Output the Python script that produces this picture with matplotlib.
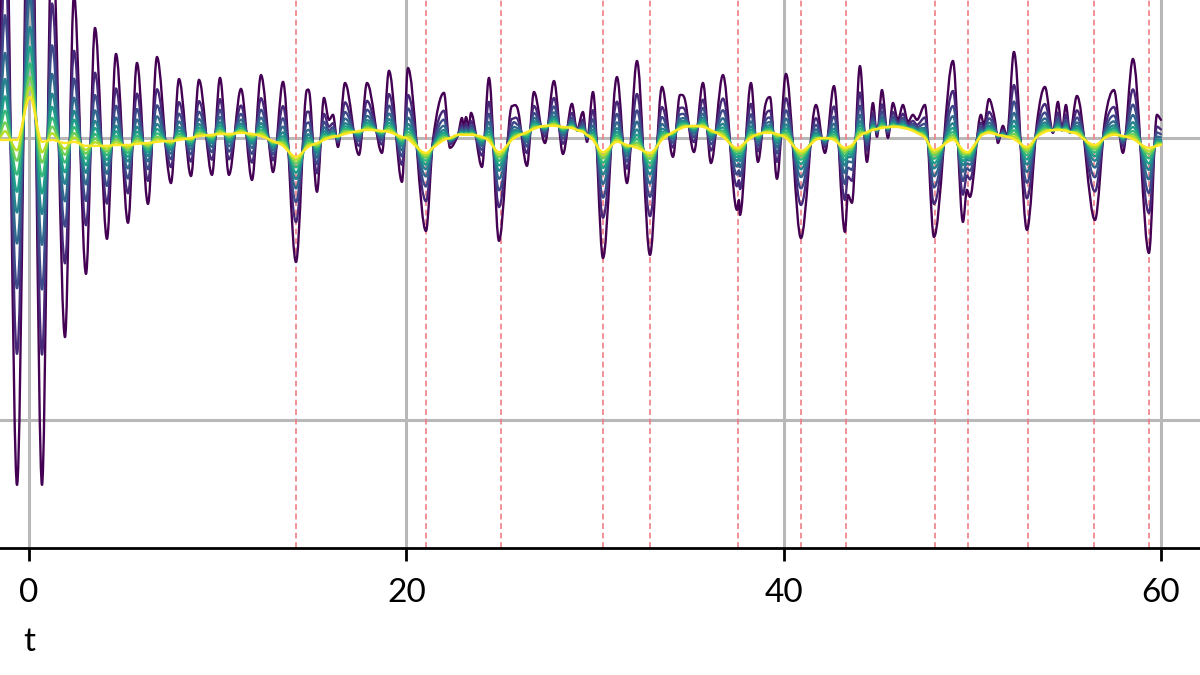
import matplotlib
matplotlib.use("Agg")
import matplotlib.pyplot as plt
from matplotlib.path import Path
from matplotlib.patches import PathPatch
import numpy as np

# sample positions along t (shared by the traced curves)
t = [-1.537, -1.272, -0.636, 0.053, 0.689, 1.219, 1.908, 2.385, 3.021, 3.498,
     4.134, 4.611, 5.247, 5.724, 6.307, 6.784, 7.314, 7.526, 7.950, 8.587,
     9.011, 9.700, 10.124, 10.600, 11.237, 11.820, 12.297, 12.774, 12.933, 13.463,
     14.152, 14.735, 14.894, 15.265, 15.636, 15.901, 16.113, 16.378, 16.749, 17.491,
     17.915, 18.710, 19.081, 19.770, 20.088, 21.042, 21.413, 21.996, 22.314, 22.738,
     22.950, 23.056, 23.162, 23.321, 23.427, 24.010, 24.381, 24.911, 25.600, 25.918,
     26.395, 26.766, 27.349, 27.826, 28.303, 28.780, 29.045, 29.364, 29.576, 29.894,
     30.424, 31.166, 31.696, 32.226, 32.915, 33.551, 34.134, 34.505, 34.770, 35.247,
     35.724, 36.148, 36.784, 37.526, 37.632, 37.685, 38.268, 38.639, 39.010, 39.275,
     39.646, 40.123, 40.918, 41.713, 42.190, 42.667, 43.250, 43.409, 43.621, 44.045,
     44.416, 44.734, 44.946, 45.211, 45.529, 45.794, 46.059, 46.324, 46.589, 46.854,
     47.066, 47.490, 47.967, 48.975, 49.505, 49.717, 49.875, 50.458, 50.617, 50.882,
     51.200, 51.359, 51.624, 51.836, 52.207, 52.896, 53.426, 53.850, 54.275, 54.540,
     54.752, 54.964, 55.176, 55.547, 56.501, 57.031, 57.508, 57.985, 58.515, 59.363,
     59.787, 60.000]

# most oscillating curve (dark purple)
rough = [2.77, 10.21, -12.30, 13.26, -12.30, 7.73, -7.06, 5.07, -4.82, 3.90,
         -3.58, 2.98, -3.01, 2.66, -2.34, 2.87, -0.78, -1.60, 2.09, -1.35,
         2.06, -1.31, 2.13, -1.31, 1.74, -1.49, 2.23, -0.53, -1.21, 1.99,
         -4.40, 1.70, 1.45, -1.91, 1.42, 0.64, 0.82, -0.32, 1.95, -0.60,
         1.95, -0.53, 2.38, -1.56, 2.48, -3.30, -0.07, 1.60, -0.35, 0.11,
         0.71, 0.35, 0.74, 0.39, 0.89, -1.03, 2.13, -3.65, 1.13, 0.99,
         -0.99, 1.63, -0.18, 2.02, -0.57, 1.21, 0.28, 0.92, -0.14, 1.63,
         -4.26, 2.16, -1.60, 2.73, -4.15, 1.81, -0.67, 1.52, 1.35, -0.50,
         1.95, -0.89, 2.23, -2.55, -2.20, -2.73, 1.95, -0.85, 1.10, 1.45,
         -1.45, 2.27, -3.55, 1.17, -0.53, 1.84, -3.33, -2.02, -2.30, 2.55,
         -0.85, 1.24, 0.04, 1.70, 0.00, 1.24, 0.64, 1.17, 0.57, 0.82,
         0.64, 1.17, -3.51, 2.73, -2.98, -1.84, -2.09, 0.82, 0.46, 1.38,
         0.64, -0.18, 0.43, 0.04, 3.05, -3.26, 0.53, 1.81, 0.18, 1.28,
         0.28, 1.17, 0.18, 1.49, -2.91, 0.64, 1.70, -0.53, 2.80, -4.08,
         0.82, 0.64]

# smoothest curve (yellow)
smooth = [-0.07, -0.07, -0.07, 1.45, -0.14, -0.07, -0.18, -0.14, -0.28, -0.28,
          -0.28, -0.25, -0.25, -0.21, -0.18, -0.14, -0.11, -0.11, -0.07, 0.00,
          0.07, 0.11, 0.14, 0.14, 0.18, 0.14, 0.07, -0.07, -0.11, -0.28,
          -0.67, -0.35, -0.28, -0.18, -0.07, 0.00, 0.04, 0.07, 0.14, 0.25,
          0.28, 0.25, 0.21, 0.04, -0.04, -0.53, -0.35, -0.07, 0.00, 0.11,
          0.11, 0.11, 0.11, 0.11, 0.11, 0.04, -0.11, -0.50, -0.07, 0.07,
          0.21, 0.32, 0.43, 0.43, 0.39, 0.35, 0.28, 0.21, 0.11, -0.07,
          -0.50, -0.14, -0.25, -0.35, -0.53, -0.07, 0.21, 0.32, 0.39, 0.43,
          0.39, 0.28, 0.04, -0.35, -0.35, -0.32, 0.00, 0.14, 0.18, 0.18,
          0.14, 0.00, -0.46, -0.07, 0.00, -0.07, -0.35, -0.32, -0.25, 0.07,
          0.21, 0.28, 0.32, 0.35, 0.39, 0.39, 0.39, 0.35, 0.32, 0.25,
          0.18, 0.00, -0.43, -0.07, -0.43, -0.50, -0.46, 0.07, 0.14, 0.18,
          0.14, 0.11, 0.07, 0.04, -0.04, -0.32, 0.04, 0.21, 0.28, 0.28,
          0.28, 0.25, 0.21, 0.14, -0.25, 0.00, 0.11, 0.07, -0.04, -0.35,
          -0.28, -0.25]

# share of the rough curve in each drawn line, read from the dip depths
weights = [1.0, 0.62, 0.43, 0.30, 0.21, 0.15, 0.10, 0.06, 0.03, 0.0]

# marked positions (red dashed lines)
zeros = [14.1347, 21.0220, 25.0109, 30.4249, 32.9351, 37.5862, 40.9187,
         43.3271, 48.0052, 49.7738, 52.9703, 56.4462, 59.3470]


def curve_path(x, y):
    # smooth bezier through the points, flat at the peaks and dips
    x = np.asarray(x)
    y = np.asarray(y)
    n = len(x)
    m = np.zeros(n)
    m[0] = (y[1] - y[0]) / (x[1] - x[0])
    m[-1] = (y[-1] - y[-2]) / (x[-1] - x[-2])
    for i in range(1, n - 1):
        if (y[i] - y[i - 1]) * (y[i + 1] - y[i]) > 0:
            m[i] = (y[i + 1] - y[i - 1]) / (x[i + 1] - x[i - 1])
    verts = [(x[0], y[0])]
    codes = [Path.MOVETO]
    for i in range(n - 1):
        h = x[i + 1] - x[i]
        verts += [(x[i] + h / 3, y[i] + m[i] * h / 3),
                  (x[i + 1] - h / 3, y[i + 1] - m[i + 1] * h / 3),
                  (x[i + 1], y[i + 1])]
        codes += [Path.CURVE4] * 3
    return Path(verts, codes)


fig = plt.figure(figsize=(12, 6.75), dpi=100)
ax = fig.add_axes([0, 0.188, 1, 0.812])

rough = np.array(rough)
smooth = np.array(smooth)
colors = plt.cm.viridis(np.linspace(0, 1, len(weights)))
for w, c in zip(weights, colors):
    yk = smooth + w * (rough - smooth)
    ax.add_patch(PathPatch(curve_path(t, yk), fill=False, ec=c, lw=1.7,
                           zorder=3, capstyle='round', joinstyle='round'))

for z in zeros:
    ax.axvline(z, color='#ee7f86', ls=(0, (3.5, 2.2)), lw=1.2, zorder=2)

ax.set_xlim(-1.537, 62.07)
ax.set_ylim(-14.54, 4.89)
ax.set_xticks([0, 20, 40, 60])
ax.set_yticks([0, -10])
ax.set_yticklabels([])
ax.tick_params(axis='y', length=0)
ax.tick_params(axis='x', length=9.5, width=2, direction='out', pad=12,
               labelsize=24, color='black')
ax.grid(True, color='#b8b8b8', lw=2.2, zorder=1)

for side in ['left', 'right', 'top']:
    ax.spines[side].set_visible(False)
ax.spines['bottom'].set_linewidth(2)

ax.set_xlabel('t', fontsize=24, va='center')
ax.xaxis.set_label_coords(0.024, -0.172)

for lab in ax.get_xticklabels() + [ax.xaxis.label]:
    lab.set_fontfamily(['Lato', 'DejaVu Sans'])

fig.savefig('out.png', dpi=100)
